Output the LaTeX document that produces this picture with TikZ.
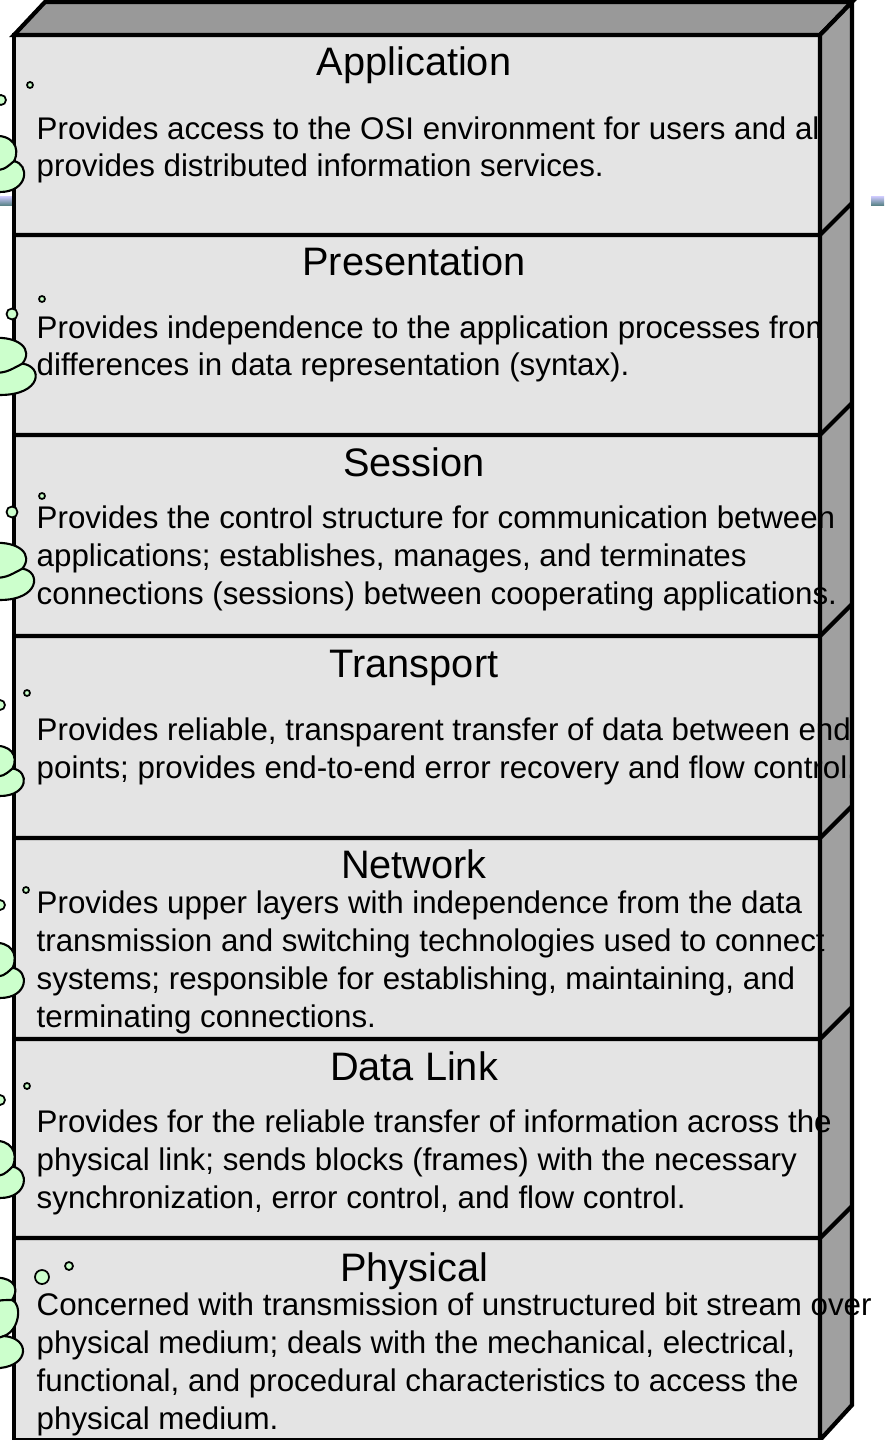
\documentclass[tikz,border=0pt]{standalone}
\usepackage{fontspec}
\setmainfont{Liberation Sans}
\usetikzlibrary{positioning}
\definecolor{faceGray}{HTML}{E4E4E4}
\definecolor{topGray}{HTML}{999999}
\definecolor{sideGray}{HTML}{A0A0A0}
\definecolor{cloudGreen}{HTML}{CCFFCC}
\definecolor{barTop}{HTML}{C4C4F4}
\definecolor{barBottom}{HTML}{4E7C7C}
\newcommand\DrawLayerCloud[4]{% top, bottom, upper lobe reach, lower lobe reach
  \pgfmathsetmacro\cloudH{#2-#1}
  \filldraw[cloud] (-8,#1) .. controls (0.6*#3,#1-2) and (1.05*#3,#1+0.2*\cloudH) .. (0.7*#3,#1+0.45*\cloudH)
    .. controls (1.15*#4,#1+0.5*\cloudH) and (1.1*#4,#1+\cloudH) .. (0,#2) -- (-8,#2) -- cycle;
  \draw[cloud] (-8,#1+0.62*\cloudH) .. controls (0.2*#3,#1+0.6*\cloudH) .. (0.7*#3,#1+0.45*\cloudH);
}
\tikzset{
  edge/.style={line width=1.2pt,black,line join=miter},
  front face/.style={edge,fill=faceGray},
  top face/.style={edge,fill=topGray},
  side face/.style={edge,fill=sideGray},
  cloud/.style={line width=0.6pt,black,fill=cloudGreen},
  bubble/.style={line width=0.5pt,black,fill=cloudGreen},
  bar/.style={top color=barTop,bottom color=barBottom},
  layer title/.style={anchor=base,inner sep=0pt,font=\fontsize{11.3pt}{13pt}\selectfont},
  % the base of a multi-line node is its last line
  layer body/.style={anchor=base west,align=left,inner sep=0pt,
    font=\fontsize{8.9pt}{10.73pt}\selectfont}
}
\begin{document}
\begin{tikzpicture}[x=0.01cm,y=-0.01cm]

  % Define some variables
  \def\FL{14}     % front face left
  \def\FR{820}    % front face right
  \def\FT{35}     % front face top
  \def\FB{1440}   % front face bottom
  \def\D{32}      % depth of the box

  \useasboundingbox (0,0) rectangle (884,1440);

  % bits of the slide behind
  \shade[bar] (0,197) rectangle (12,206);
  \shade[bar] (871,197) rectangle (884,206);

  % the box
  \coordinate (FTL) at (\FL,\FT);
  \coordinate (FTR) at (\FR,\FT);
  \coordinate (FBL) at (\FL,\FB);
  \coordinate (FBR) at (\FR,\FB);
  \filldraw[front face] (FTL) rectangle (FBR);
  \filldraw[top face] (FTL) -- ++(\D-1,-\D-1) -- ++(\FR-\FL+1,0) -- (FTR) -- cycle;
  \filldraw[side face] (FTR) -- ++(\D,-\D-1) -- ++(0,\FB-\FT-2) -- (FBR) -- cycle;
  \foreach \y in {235,435,636,838,1039,1238}
    \draw[edge] (\FL,\y) -- (\FR,\y) -- ++(\D,-\D);

  % layer texts
  \begin{scope}
    \clip (\FL,\FT) rectangle (\FR,435);
    \node[layer title] (appTitle) at (414,76) {Application};
    \node[layer body] (appBody) at (36,177)
      {Provides access to the OSI environment for users and al\\
       provides distributed information services.};
    \node[layer title] (presTitle) at (414,276) {Presentation};
    \node[layer body] (presBody) at (36,376)
      {Provides independence to the application processes from\\
       differences in data representation (syntax).};
  \end{scope}
  \node[layer title] (sessTitle) at (414,477) {Session};
  \node[layer body] (sessBody) at (36,604)
    {Provides the control structure for communication between\\
     applications; establishes, manages, and terminates\\
     connections (sessions) between cooperating applications.};
  \node[layer title] (transTitle) at (414,677) {Transport};
  \node[layer body] (transBody) at (36,778)
    {Provides reliable, transparent transfer of data between end\\
     points; provides end-to-end error recovery and flow control.};
  \node[layer title] (netTitle) at (414,878) {Network};
  \node[layer body] (netBody) at (36,1027)
    {Provides upper layers with independence from the data\\
     transmission and switching technologies used to connect\\
     systems; responsible for establishing, maintaining, and\\
     terminating connections.};
  \node[layer title] (linkTitle) at (414,1080) {Data Link};
  \node[layer body] (linkBody) at (36,1208)
    {Provides for the reliable transfer of information across the\\
     physical link; sends blocks (frames) with the necessary\\
     synchronization, error control, and flow control.};
  \node[layer title] (physTitle) at (414,1281) {Physical};
  \node[layer body] (physBody) at (36,1429)
    {Concerned with transmission of unstructured bit stream over\\
     physical medium; deals with the mechanical, electrical,\\
     functional, and procedural characteristics to access the\\
     physical medium.};

  % clouds on the left
  \DrawLayerCloud{136}{192}{20}{26}
  \DrawLayerCloud{338}{395}{32}{38}
  \DrawLayerCloud{543}{600}{32}{36}
  \DrawLayerCloud{746}{796}{18}{26}
  \DrawLayerCloud{943}{998}{18}{26}
  \DrawLayerCloud{1141}{1198}{18}{26}
  \filldraw[cloud] (-8,1278) .. controls (8,1276) and (22,1284) .. (12,1300)
    .. controls (22,1304) and (20,1330) .. (4,1336)
    .. controls (30,1338) and (30,1365) .. (0,1368) -- (-8,1368) -- cycle;
  \draw[cloud] (-8,1302) .. controls (2,1300) .. (12,1300);
  \draw[cloud] (-8,1340) .. controls (-2,1338) .. (4,1336);
  \foreach \x/\y/\r in {1/100/5,12/314/5.5,12/512/5.5,0/705/5,0/905/5,0/1100/5,
                       30/85/3,42/299/3,42/496/3,27/693/3,26/890/3,27/1086/3,
                       42/1277/7,69/1266/4}
    \filldraw[bubble] (\x,\y) circle[radius=\r];

\end{tikzpicture}
\end{document}
